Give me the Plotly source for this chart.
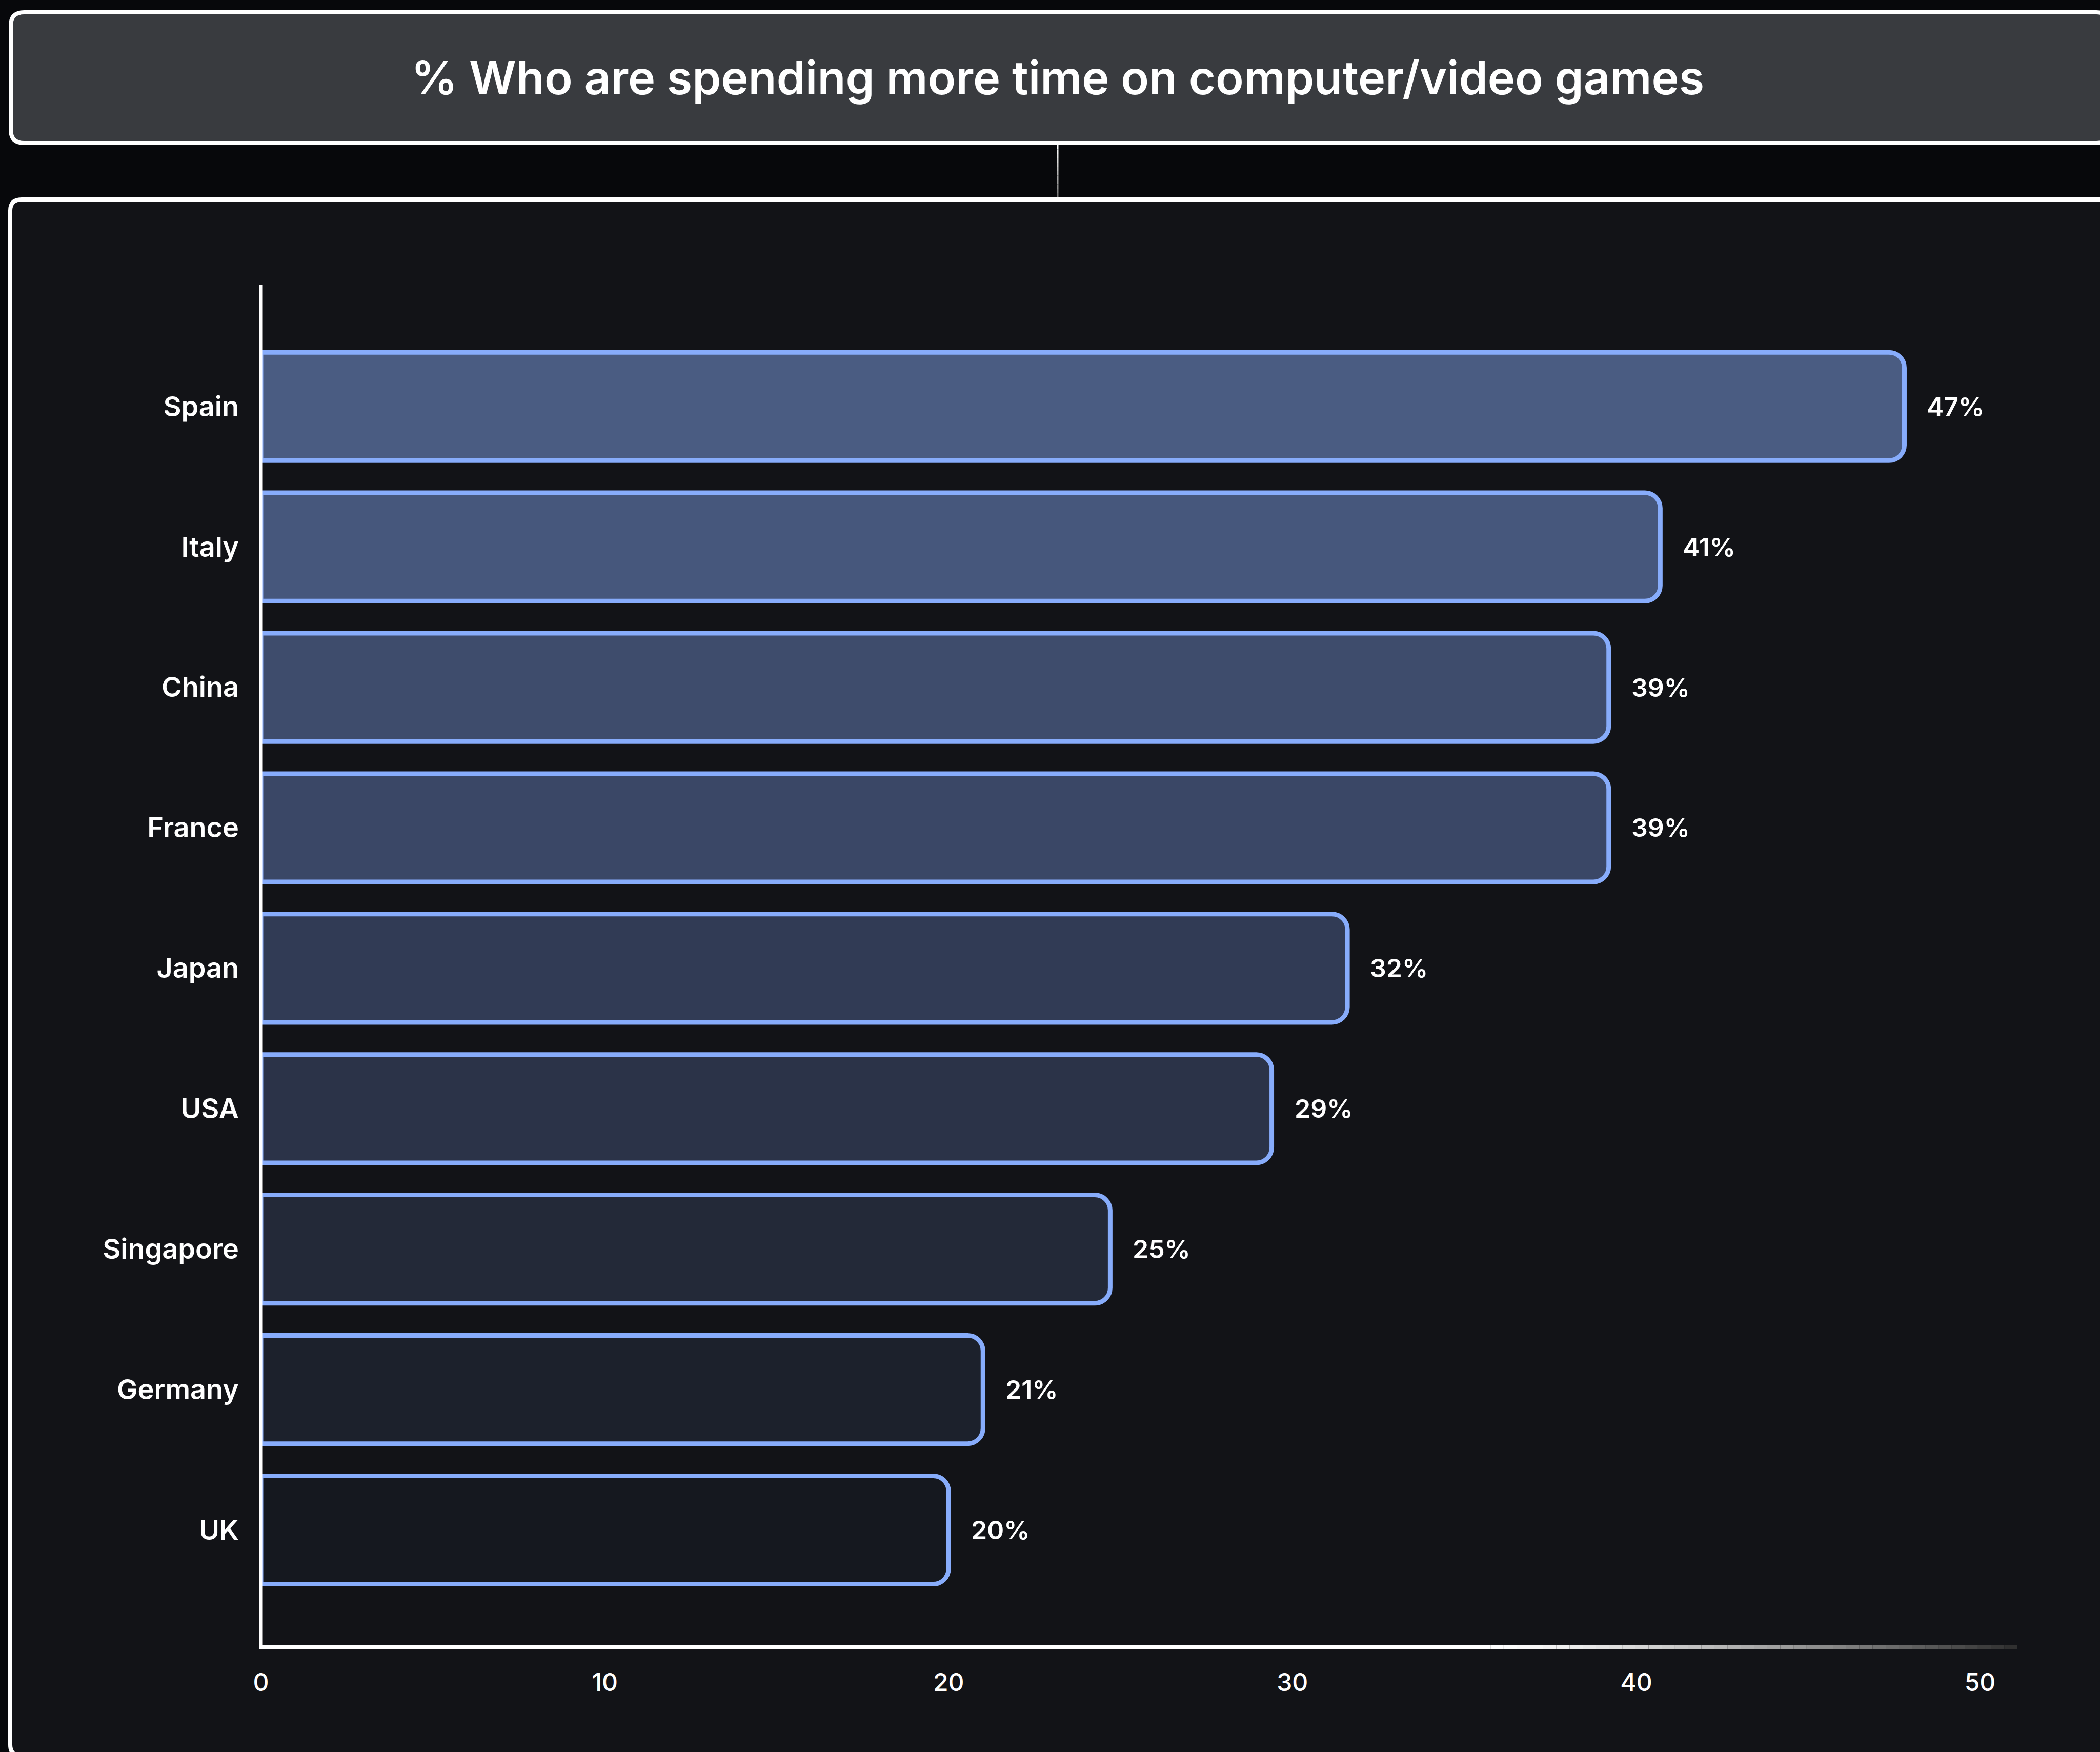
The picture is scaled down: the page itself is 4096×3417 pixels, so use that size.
import plotly.graph_objects as go

countries = ["Spain", "Italy", "China", "France", "Japan", "USA", "Singapore", "Germany", "UK"]
values = [47.8, 40.7, 39.2, 39.2, 31.6, 29.4, 24.7, 21.0, 20.0]
labels = ["47%", "41%", "39%", "39%", "32%", "29%", "25%", "21%", "20%"]
bar_colors = ["#4a5c82", "#46577c", "#3e4c6c", "#3a4766", "#313b55",
              "#2b3348", "#232938", "#1c212c", "#15181f"]
x_ticks = [0, 10, 20, 30, 40, 50]
title = "% Who are spending more time on computer/video games"

FW, FH = 4096, 3417
L, R, T, B = 509, 161, 555, 204
PW, PH = FW - L - R, FH - T - B


def X(px):
    return (px - L) / PW


def Y(py):
    return 1 - (py - T) / PH


def rounded_box(x0, y0, x1, y1, r):
    pts = []
    pts.append(f"M {X(x0 + r)},{Y(y0)}")
    pts.append(f"L {X(x1 - r)},{Y(y0)}")
    pts.append(f"Q {X(x1)},{Y(y0)} {X(x1)},{Y(y0 + r)}")
    pts.append(f"L {X(x1)},{Y(y1 - r)}")
    pts.append(f"Q {X(x1)},{Y(y1)} {X(x1 - r)},{Y(y1)}")
    pts.append(f"L {X(x0 + r)},{Y(y1)}")
    pts.append(f"Q {X(x0)},{Y(y1)} {X(x0)},{Y(y1 - r)}")
    pts.append(f"L {X(x0)},{Y(y0 + r)}")
    pts.append(f"Q {X(x0)},{Y(y0)} {X(x0 + r)},{Y(y0)} Z")
    return " ".join(pts)


shapes = []
# title box
shapes.append(dict(type="path", xref="paper", yref="paper", layer="below",
                   path=rounded_box(21, 24, 4115, 279, 26),
                   fillcolor="#393b3f", line=dict(color="#ffffff", width=8)))
# chart box
shapes.append(dict(type="path", xref="paper", yref="paper", layer="below",
                   path=rounded_box(20, 389, 4115, 3425, 22),
                   fillcolor="#121317", line=dict(color="#ffffff", width=8)))
# connector line (fades downward)
n = 12
y_a, y_b = 283, 385
for i in range(n):
    t = i / n
    c = int(255 - 150 * t)
    shapes.append(dict(type="line", xref="paper", yref="paper", layer="below",
                       x0=X(2063), x1=X(2063),
                       y0=Y(y_a + (y_b - y_a) * i / n), y1=Y(y_a + (y_b - y_a) * (i + 1) / n),
                       line=dict(color=f"rgb({c},{c},{c})", width=3)))

# x axis line with fade to the right
solid_end = 0.70
shapes.append(dict(type="line", xref="paper", yref="paper", layer="above",
                   x0=X(506), x1=solid_end, y0=0, y1=0,
                   line=dict(color="#ffffff", width=8)))
m = 40
for i in range(m):
    t0 = solid_end + (1 - solid_end) * i / m
    t1 = solid_end + (1 - solid_end) * (i + 1) / m
    f = (i + 0.5) / m
    c = int(255 - (255 - 45) * f ** 1.3)
    shapes.append(dict(type="line", xref="paper", yref="paper", layer="above",
                       x0=t0, x1=t1, y0=0, y1=0,
                       line=dict(color=f"rgb({c},{c},{c})", width=8)))
# y axis line
shapes.append(dict(type="line", xref="paper", yref="paper", layer="above",
                   x0=0, x1=0, y0=Y(3217), y1=1,
                   line=dict(color="#ffffff", width=7)))

fig = go.Figure()
fig.add_trace(go.Bar(
    x=values, y=countries, orientation="h",
    marker=dict(color=bar_colors, line=dict(color="#87acfb", width=9), cornerradius=30),
    hoverinfo="skip", showlegend=False,
))

annotations = []
for c, v, lab in zip(countries, values, labels):
    annotations.append(dict(x=v, y=c, xref="x", yref="y", text=lab, showarrow=False,
                            xanchor="left", yanchor="middle", xshift=42,
                            font=dict(family="Inter", size=50, color="#ffffff", weight=600)))
annotations.append(dict(x=X(2063), y=Y(151), xref="paper", yref="paper", text=title,
                        showarrow=False, xanchor="center", yanchor="middle",
                        font=dict(family="Inter", size=90, color="#ffffff", weight=600)))

fig.update_layout(
    width=FW, height=FH,
    margin=dict(l=L, r=R, t=T, b=B, pad=0),
    paper_bgcolor="#07080b", plot_bgcolor="rgba(0,0,0,0)",
    bargap=0.229,
    shapes=shapes, annotations=annotations,
    xaxis=dict(range=[0, PW / 67.06], tickvals=x_ticks, ticktext=[str(t) for t in x_ticks],
               showgrid=False, zeroline=False, showline=False, ticks="",
               ticklabelstandoff=36,
               tickfont=dict(family="Inter", size=48, color="#ffffff", weight=500)),
    yaxis=dict(categoryorder="array", categoryarray=countries, range=[8.836, -0.868],
               showgrid=False, zeroline=False, showline=False, ticks="",
               ticklabelstandoff=42,
               tickfont=dict(family="Inter", size=54, color="#ffffff", weight=600)),
)

fig.write_html("out.html", config={"displayModeBar": False},
               post_script="document.body.style.margin='0';")
